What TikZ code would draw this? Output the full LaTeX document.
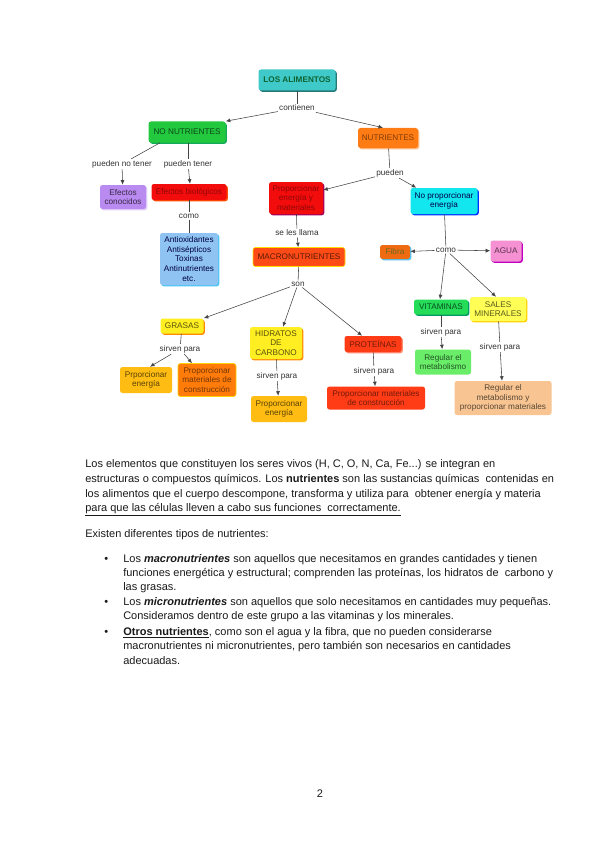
\documentclass[tikz,border=0pt]{standalone}
\usepackage{fontspec}
\setmainfont{Liberation Sans}
\usetikzlibrary{arrows.meta, shadows}
\definecolor{calim}{HTML}{3FC9C9}
\definecolor{cnonut}{HTML}{22C83E}
\definecolor{cnut}{HTML}{FF7B13}
\definecolor{cefcon}{HTML}{B98AEF}
\definecolor{cred}{HTML}{F20C0C}
\definecolor{cantiox}{HTML}{8FC3F2}
\definecolor{ccyan}{HTML}{12E6EE}
\definecolor{cmacro}{HTML}{FF4B16}
\definecolor{cfibra}{HTML}{EE6B12}
\definecolor{cagua}{HTML}{F590D2}
\definecolor{cvit}{HTML}{25DC58}
\definecolor{cyel}{HTML}{FFFF55}
\definecolor{cregmet}{HTML}{6AEE6A}
\definecolor{cpeach}{HTML}{F8C592}
\definecolor{cgras}{HTML}{FFEE22}
\definecolor{cprot}{HTML}{FF3C16}
\definecolor{cener}{HTML}{FFBC12}
\definecolor{cmat}{HTML}{FF7B0A}
\definecolor{cline}{HTML}{444444}
\definecolor{clbl}{HTML}{333333}
\definecolor{ctext}{HTML}{1A1A1A}
\tikzset{
  every picture/.style={line width=0.6pt},
  box/.style={fill=#1, text=#1!35!black, rounded corners=2.5pt, align=center, inner sep=1.2pt, font=\fontsize{8.2}{9.6}\selectfont},
  glow/.style={drop shadow={fill=#1, opacity=1, shadow xshift=1.3pt, shadow yshift=-1.3pt}},
  link/.style={draw=cline, line width=0.55pt},
  arrow/.style={link, -{Latex[length=4.5pt, width=4pt]}},
  lbl/.style={font=\fontsize{8.2}{9}\selectfont, text=clbl, inner sep=1pt},
  body/.style={font=\fontsize{11}{13}\selectfont, text=ctext, anchor=west, inner sep=0pt},
}
\begin{document}
\begin{tikzpicture}[x=1pt, y=-1pt]
  \useasboundingbox[fill=white] (0,0) rectangle (599,848);
  % top of the map
  \node[box=calim, glow=calim!60!black, text=calim!30!black!80!green, minimum width=77pt, minimum height=21pt] (alim) at (297,80) {\bfseries LOS ALIMENTOS};
  \node[lbl] (cont) at (297,108) {contienen};
  \node[box=cnonut, glow=cnonut!60!teal, minimum width=77pt, minimum height=21pt] (nonut) at (187,132) {NO NUTRIENTES};
  \node[box=cnut, glow=cnut!50!white, text=cnut!50!black, minimum width=60pt, minimum height=20pt] (nut) at (388,138) {NUTRIENTES};
  % no nutrientes branch
  \node[lbl] (pnt) at (122,164) {pueden no tener};
  \node[lbl] (pt) at (188,164) {pueden tener};
  \node[box=cefcon, glow=cefcon!40!white, text=cefcon!30!black, minimum width=46pt, minimum height=24pt] (efcon) at (123,197) {Efectos\\conocidos};
  \node[box=cred, glow=orange!60!red, text=cred!60!black, minimum width=75pt, minimum height=16pt] (efbio) at (189,192) {Efectos biológicos};
  \node[lbl] (como1) at (189,216) {como};
  \node[box=cantiox, glow=cyan!70!white, text=blue!25!black, minimum width=58pt, minimum height=52pt] (antiox) at (189,259) {Antioxidantes\\Antisépticos\\Toxinas\\Antinutrientes\\etc.};
  % nutrientes branch
  \node[lbl] (pued) at (390,173) {pueden};
  \node[box=cred, glow=violet!70!red, text=cred!60!black, minimum width=54pt, minimum height=32pt] (prop) at (296,198) {Proporcionar\\energía y\\materiales};
  \node[box=ccyan, glow=blue!80!cyan, text=blue!30!black, minimum width=67pt, minimum height=26pt] (noprop) at (444,201) {No proporcionar\\energía};
  \node[lbl] (llama) at (297,233) {se les llama};
  \node[box=cmacro, draw=yellow!80!orange, minimum width=92pt, minimum height=19pt] (macro) at (299,257) {MACRONUTRIENTES};
  \node[lbl] (son) at (298,284) {son};
  % macronutrientes
  \node[box=cgras, glow=orange!90!yellow, minimum width=43pt, minimum height=15pt] (grasas) at (182,326) {GRASAS};
  \node[box=cgras, glow=orange!90!yellow, minimum width=52pt, minimum height=32pt] (hid) at (276,343) {HIDRATOS\\DE\\CARBONO};
  \node[box=cprot, glow=cprot!60!white, text=cprot!45!black, minimum width=57pt, minimum height=16pt] (prot) at (373,344) {PROTEÍNAS};
  \node[lbl] (sp1) at (180,349) {sirven para};
  \node[lbl] (sp2) at (277,376) {sirven para};
  \node[lbl] (sp3) at (374,371) {sirven para};
  \node[box=cener, minimum width=52pt, minimum height=26pt] (prpen) at (146,380) {Prporcionar\\energía};
  \node[box=cmat, draw=yellow!70!orange, text=cmat!45!black, minimum width=58pt, minimum height=33pt] (prmat) at (207,380) {Proporcionar\\materiales de\\construcción};
  \node[box=cener, minimum width=56pt, minimum height=26pt] (hidener) at (279,409) {Proporcionar\\energía};
  \node[box=cprot, text=cprot!45!black, minimum width=98pt, minimum height=23pt] (protmat) at (376,398) {Proporcionar materiales\\de construcción};
  % otros nutrientes
  \node[lbl] (como2) at (446,250) {como};
  \node[box=cfibra, glow=cyan!70!white, text=olive!70!black, minimum width=30pt, minimum height=14pt] (fibra) at (395,252) {Fibra};
  \node[box=cagua, glow=violet!50!magenta, text=cagua!35!black, minimum width=31pt, minimum height=21pt] (agua) at (506,251) {AGUA};
  \node[box=cvit, glow=teal!80!green, minimum width=54pt, minimum height=15pt] (vit) at (441,307) {VITAMINAS};
  \node[box=cyel, glow=yellow!70!orange, minimum width=56pt, minimum height=24pt] (sales) at (498,309) {SALES\\MINERALES};
  \node[lbl] (sp4) at (441,332) {sirven para};
  \node[lbl] (sp5) at (500,347) {sirven para};
  \node[box=cregmet, minimum width=56pt, minimum height=25pt] (regmet) at (443,362) {Regular el\\metabolismo};
  \node[box=cpeach, minimum width=97pt, minimum height=34pt] (regmat) at (503,398) {Regular el\\metabolismo y\\proporcionar materiales};
  % connectors
  \draw[link] (alim) -- (cont);
  \draw[arrow] (cont) -- (nonut.north east);
  \draw[arrow] (cont) -- ([xshift=-5pt]nut.north);
  \draw[link] ([xshift=-27pt]nonut.south) -- (pnt);
  \draw[arrow] (pnt) -- (efcon);
  \draw[link] ([xshift=1pt]nonut.south) -- (pt);
  \draw[arrow] (pt) -- ([xshift=1pt]efbio.north);
  \draw[link] (efbio) -- (como1);
  \draw[link] (como1) -- (antiox);
  \draw[link] (nut) -- (pued);
  \draw[arrow] (pued) -- ([yshift=8pt]prop.east);
  \draw[arrow] (pued) -- ([xshift=6pt]noprop.north west);
  \draw[link] (prop) -- (llama);
  \draw[arrow] (llama) -- (macro);
  \draw[link] (macro) -- (son);
  \draw[arrow] (son) -- (grasas.north east);
  \draw[arrow] (son) -- ([xshift=7pt]hid.north);
  \draw[arrow] (son) -- ([xshift=-11pt]prot.north);
  \draw[link] (grasas) -- (sp1);
  \draw[arrow] (sp1) -- ([xshift=4pt]prpen.north);
  \draw[arrow] (sp1) -- ([xshift=-15pt]prmat.north);
  \draw[link] (hid) -- (sp2);
  \draw[arrow] (sp2) -- (hidener);
  \draw[link] (prot) -- (sp3);
  \draw[arrow] (sp3) -- (protmat);
  \draw[link] (noprop) -- (como2);
  \draw[arrow] (como2) -- (fibra);
  \draw[arrow] (como2) -- (agua);
  \draw[arrow] (como2) -- ([xshift=-1pt]vit.north);
  \draw[arrow] (como2) -- ([xshift=-2pt]sales.north);
  \draw[link] (vit) -- (sp4);
  \draw[arrow] (sp4) -- (regmet);
  \draw[link] (sales) -- (sp5);
  \draw[arrow] (sp5) -- (regmat);
  % text of the page
  \node[body] (p1) at (85,465) {Los elementos que constituyen los seres vivos (H, C, O, N, Ca, Fe...) se integran en};
  \node[body] (p2) at (85,480) {estructuras o compuestos químicos. Los \textbf{nutrientes} son las sustancias químicas\ \ contenidas en};
  \node[body] (p3) at (85,495) {los alimentos que el cuerpo descompone, transforma y utiliza para\ \ obtener energía y materia};
  \node[body] (p4) at (85,510) {\underline{para que las células lleven a cabo sus funciones\ \ correctamente.}};
  \node[body] (p5) at (85,535) {Existen diferentes tipos de nutrientes:};
  \foreach \y [count=\i] in {560,603,633} {
    \node[body] (dot\i) at (104,\y) {\textbullet};
  }
  \node[body] (b1) at (123,560) {Los \textbf{\textit{macronutrientes}} son aquellos que necesitamos en grandes cantidades y tienen};
  \node[body] (b2) at (123,574) {funciones energética y estructural; comprenden las proteínas, los hidratos de\ \ carbono y};
  \node[body] (b3) at (123,588) {las grasas.};
  \node[body] (b4) at (123,603) {Los \textbf{\textit{micronutrientes}} son aquellos que solo necesitamos en cantidades muy pequeñas.};
  \node[body] (b5) at (123,617) {Consideramos dentro de este grupo a las vitaminas y los minerales.};
  \node[body] (b6) at (123,633) {\underline{\textbf{Otros nutrientes}}, como son el agua y la fibra, que no pueden considerarse};
  \node[body] (b7) at (123,647) {macronutrientes ni micronutrientes, pero también son necesarios en cantidades};
  \node[body] (b8) at (123,661) {adecuadas.};
  \node[body, anchor=center] (pnum) at (320,794) {2};
\end{tikzpicture}
\end{document}
